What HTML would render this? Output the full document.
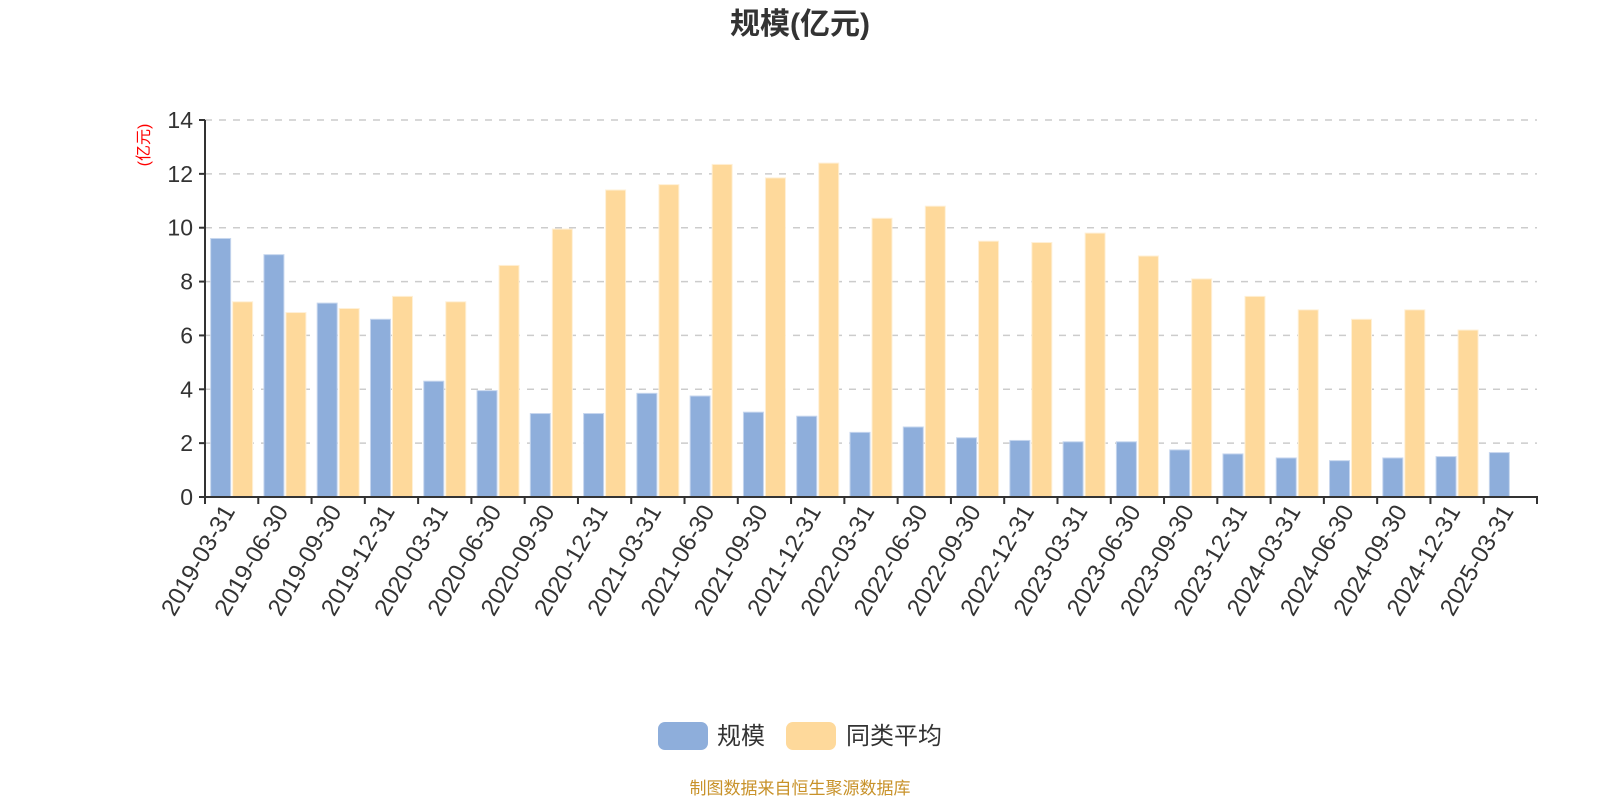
<!DOCTYPE html>
<html><head><meta charset="utf-8"><style>
body{margin:0;background:#fff;}
svg text{font-family:"Liberation Sans","Noto Sans CJK SC",sans-serif;}
</style></head><body>
<svg id="chart" width="1600" height="800" xmlns="http://www.w3.org/2000/svg">
<text x="800" y="34" text-anchor="middle" font-size="30" font-weight="bold" fill="#333">规模(亿元)</text>
<text transform="translate(149,145) rotate(-90)" text-anchor="middle" font-size="16" fill="#f00">(亿元)</text>
<g id="grid"></g><g id="bars"></g><g id="axes"></g>
<g>
<rect x="658" y="722" width="50" height="28" rx="7" fill="#8eaedb"/>
<text x="717" y="744" font-size="24" fill="#333">规模</text>
<rect x="786" y="722" width="50" height="28" rx="7" fill="#fed99b"/>
<text x="846" y="744" font-size="24" fill="#333">同类平均</text>
</g>
<text x="800" y="794" text-anchor="middle" font-size="17" fill="#c8922a">制图数据来自恒生聚源数据库</text>
</svg>
<script>
const categories=["2019-03-31","2019-06-30","2019-09-30","2019-12-31","2020-03-31","2020-06-30","2020-09-30","2020-12-31","2021-03-31","2021-06-30","2021-09-30","2021-12-31","2022-03-31","2022-06-30","2022-09-30","2022-12-31","2023-03-31","2023-06-30","2023-09-30","2023-12-31","2024-03-31","2024-06-30","2024-09-30","2024-12-31","2025-03-31"];
const scaleValues=[9.6,9.0,7.2,6.6,4.3,3.95,3.1,3.1,3.85,3.75,3.15,3.0,2.4,2.6,2.2,2.1,2.05,2.05,1.75,1.6,1.45,1.35,1.45,1.5,1.65];
const avgValues=[7.25,6.85,7.0,7.45,7.25,8.6,9.95,11.4,11.6,12.35,11.85,12.4,10.35,10.8,9.5,9.45,9.8,8.95,8.1,7.45,6.95,6.6,6.95,6.2,null];
const yTicks=[0,2,4,6,8,10,12,14];
const NS="http://www.w3.org/2000/svg";
const X0=205,X1=1537,Y0=497,Y1=120,YMAX=14;
const band=(X1-X0)/categories.length;
function y(v){return Y0-(v/YMAX)*(Y0-Y1);}
function xBand(i){return X0+i*band;}
function mk(tag,attrs,parent){const e=document.createElementNS(NS,tag);for(const k in attrs)e.setAttribute(k,attrs[k]);parent.appendChild(e);return e;}
const grid=document.getElementById('grid'),bars=document.getElementById('bars'),axes=document.getElementById('axes');
yTicks.forEach(t=>{
  if(t>0){const g=mk('line',{x1:X0,x2:X1,y1:y(t),y2:y(t),stroke:'#ccc','stroke-width':1.5,'stroke-dasharray':'7,7'},grid);
  
  }
  const tk=mk('line',{x1:X0-6,x2:X0,y1:y(t),y2:y(t),stroke:'#333','stroke-width':2},axes);
  
  
  const lb=mk('text',{x:X0-12,y:y(t)+8,'text-anchor':'end','font-size':23,fill:'#333'},axes);
  lb.textContent=t;
  
  
});
const bw=20;
categories.forEach((c,i)=>{
  const cx=xBand(i)+band/2;
  if(scaleValues[i]!=null){const r=mk('rect',{x:cx-bw-1,y:y(scaleValues[i]),width:bw,height:Y0-y(scaleValues[i]),fill:'#8eaedb',stroke:'#c6d6ee','stroke-width':1},bars);
  
  }
  if(avgValues[i]!=null){const r=mk('rect',{x:cx+1,y:y(avgValues[i]),width:bw,height:Y0-y(avgValues[i]),fill:'#fed99b',stroke:'#fff0d6','stroke-width':1},bars);
  
  }
  const tk=mk('line',{x1:xBand(i),x2:xBand(i),y1:Y0,y2:Y0+7,stroke:'#333','stroke-width':2},axes);
  
  
  const lb=mk('text',{transform:`translate(${cx+4},${Y0+14}) rotate(-60)`,'text-anchor':'end','font-size':24,fill:'#333'},axes);
  lb.textContent=c;
  
  
});
const lt=mk('line',{x1:X1,x2:X1,y1:Y0,y2:Y0+7,stroke:'#333','stroke-width':2},axes);


const ya=mk('line',{x1:X0,x2:X0,y1:Y1,y2:Y0,stroke:'#333','stroke-width':2},axes);


const xa=mk('line',{x1:X0-1,x2:X1+1,y1:Y0,y2:Y0,stroke:'#333','stroke-width':2},axes);


</script>
</body></html>
